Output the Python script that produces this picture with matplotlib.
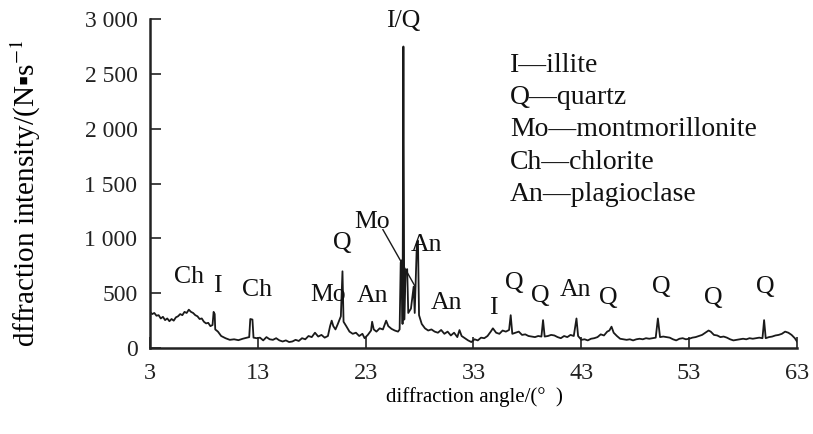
import matplotlib.pyplot as plt

plt.rcParams['font.family'] = ['Liberation Serif', 'DejaVu Serif']
plt.rcParams['mathtext.fontset'] = 'stix'

# diffraction pattern (angle in degrees, intensity)
angle = [3.0, 3.2, 3.4, 3.6, 3.8, 4.0, 4.2, 4.4, 4.6, 4.8, 5.0, 5.2, 5.4, 5.6, 5.8,
         6.0, 6.2, 6.4, 6.6, 6.8, 7.0, 7.2, 7.4, 7.6, 7.8, 8.0, 8.2, 8.4, 8.6, 8.8,
         8.9, 9.0, 9.05, 9.3, 9.6, 10.0, 10.4, 10.8, 11.2, 11.6, 12.0, 12.2, 12.3, 12.5, 12.6,
         12.9, 13.2, 13.5, 13.8, 14.1, 14.4, 14.7, 15.0, 15.3, 15.6, 15.9, 16.2, 16.5, 16.8, 17.1,
         17.4, 17.7, 18.0, 18.3, 18.6, 18.9, 19.2, 19.5, 19.7, 19.85, 20.0, 20.2, 20.4, 20.7, 20.85,
         20.95, 21.2, 21.5, 21.8, 22.1, 22.4, 22.7, 22.9, 23.2, 23.5, 23.6, 23.75, 24.0, 24.3, 24.6,
         24.9, 25.1, 25.4, 25.7, 26.0, 26.15, 26.25, 26.35, 26.42, 26.5, 26.58, 26.7, 26.85, 26.95, 27.2,
         27.45, 27.55, 27.75, 27.85, 27.95, 28.2, 28.5, 28.8, 29.1, 29.4, 29.7, 30.0, 30.3, 30.6, 30.9,
         31.2, 31.5, 31.7, 31.9, 32.2, 32.5, 32.8, 33.1, 33.4, 33.7, 34.0, 34.3, 34.6, 34.8, 35.1,
         35.4, 35.7, 36.0, 36.3, 36.45, 36.6, 36.9, 37.2, 37.5, 37.8, 38.1, 38.4, 38.7, 39.0, 39.3,
         39.45, 39.6, 39.9, 40.2, 40.5, 40.8, 41.1, 41.4, 41.7, 42.0, 42.3, 42.55, 42.7, 43.0, 43.3,
         43.6, 43.9, 44.2, 44.5, 44.8, 45.1, 45.4, 45.6, 45.8, 46.0, 46.3, 46.6, 46.9, 47.2, 47.5,
         47.8, 48.1, 48.4, 48.7, 49.0, 49.3, 49.6, 49.9, 50.1, 50.3, 50.6, 50.9, 51.2, 51.5, 51.8,
         52.1, 52.4, 52.7, 53.0, 53.3, 53.6, 53.9, 54.2, 54.5, 54.8, 55.0, 55.3, 55.6, 55.9, 56.2,
         56.5, 56.8, 57.1, 57.4, 57.7, 58.0, 58.3, 58.6, 58.9, 59.2, 59.5, 59.8, 59.95, 60.1, 60.4,
         60.7, 61.0, 61.3, 61.6, 61.9, 62.2, 62.5, 62.8, 63.0]
intensity = [330, 310, 320, 295, 300, 270, 285, 255, 270, 245, 265, 250, 280, 290, 310,
             300, 330, 320, 350, 330, 320, 300, 290, 265, 270, 240, 225, 230, 200, 210,
             330, 310, 170, 150, 110, 90, 75, 80, 72, 85, 95, 100, 265, 260, 95,
             90, 95, 70, 100, 80, 75, 90, 70, 60, 70, 55, 60, 75, 65, 90,
             80, 110, 100, 140, 105, 120, 95, 110, 200, 250, 200, 170, 215, 290, 700,
             240, 200, 150, 130, 140, 110, 130, 90, 120, 160, 240, 170, 150, 180, 170,
             250, 200, 175, 160, 150, 170, 780, 800, 220, 2750, 260, 700, 720, 320, 360,
             560, 320, 960, 980, 300, 220, 180, 160, 170, 150, 140, 165, 130, 150, 115,
             140, 100, 164, 110, 90, 70, 55, 80, 70, 95, 90, 110, 150, 180, 140,
             130, 160, 150, 165, 300, 130, 140, 150, 120, 125, 110, 105, 100, 110, 105,
             255, 105, 110, 120, 115, 100, 90, 110, 100, 120, 110, 270, 110, 75, 80,
             70, 85, 90, 100, 125, 115, 150, 160, 195, 140, 110, 85, 80, 75, 80,
             70, 80, 85, 80, 90, 85, 90, 95, 270, 100, 105, 100, 95, 80, 70,
             85, 90, 80, 85, 95, 100, 110, 120, 140, 160, 150, 120, 115, 100, 105,
             95, 80, 70, 75, 80, 85, 80, 90, 85, 90, 95, 90, 255, 90, 100,
             105, 115, 120, 130, 150, 140, 120, 90, 60]

# phase labels on the peaks
peak_labels = ['Ch', 'I', 'Ch', 'Mo', 'Q', 'An', 'I/Q', 'Mo', 'An', 'An', 'I',
               'Q', 'Q', 'An', 'Q', 'Q', 'Q', 'Q']
label_x = [6.6, 9.2, 12.9, 19.5, 20.8, 23.6, 26.5, 23.6, 28.6, 30.5, 34.8,
           36.8, 39.2, 42.5, 45.5, 50.4, 55.2, 60.1]
label_y = [650, 565, 530, 483, 958, 474, 2985, 1150, 940, 410, 365,
           593, 474, 529, 456, 556, 456, 556]

legend_lines = ['I\u2014illite', 'Q\u2014quartz', 'Mo\u2014montmorillonite',
                'Ch\u2014chlorite', 'An\u2014plagioclase']

fig = plt.figure(figsize=(8.13, 4.34), dpi=100)
ax = fig.add_axes([0.1845, 0.198, 0.7958, 0.758])

ax.plot(angle, intensity, color='#1a1a1a', linewidth=1.3)

for t, x, y in zip(peak_labels, label_x, label_y):
    ax.text(x, y, t, fontsize=18.5, ha='center', va='center', color='#111111')

# pointer from the upper "Mo" down into the cluster of peaks
ax.plot([24.6, 27.6], [1080, 560], color='#1a1a1a', linewidth=1.0)

for i, line in enumerate(legend_lines):
    fig.text(0.627, 0.850 - i * 0.0745, line, fontsize=20, va='center', color='#111111')

ax.set_xlim(3, 63)
ax.set_ylim(0, 3000)
ax.set_xticks([3, 13, 23, 33, 43, 53, 63])
ax.set_yticks([0, 500, 1000, 1500, 2000, 2500, 3000])
ax.set_yticklabels(['0', '500', '1 000', '1 500', '2 000', '2 500', '3 000'])
ax.tick_params(direction='in', length=8, width=1.2, colors='#222222')
ax.tick_params(axis='y', labelsize=17, pad=9)
ax.tick_params(axis='x', labelsize=17.5, pad=11)

for s in ['top', 'right']:
    ax.spines[s].set_visible(False)
for s in ['left', 'bottom']:
    ax.spines[s].set_linewidth(1.8)
    ax.spines[s].set_color('#222222')

ax.set_xlabel('diffraction angle/(\u00b0\u2002)', fontsize=15)
ax.set_ylabel('dffraction intensity/(N\u25aas$^{-1}$', fontsize=21)
ax.xaxis.set_label_coords(0.502, -0.12)
ax.yaxis.set_label_coords(-0.165, 0.47)

fig.savefig('out.png', dpi=100)
